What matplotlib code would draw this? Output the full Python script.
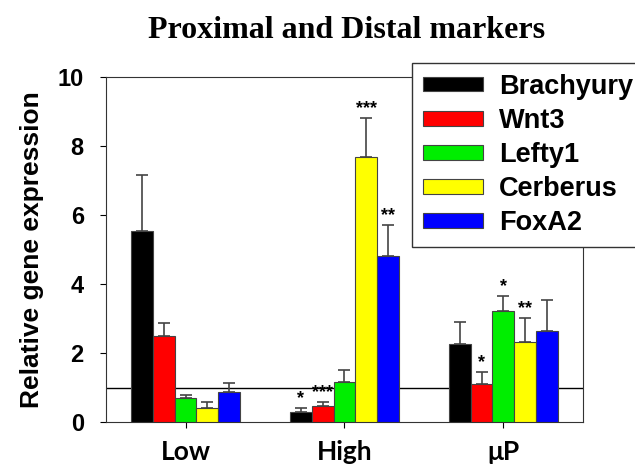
import matplotlib

matplotlib.use("Agg")
import matplotlib.pyplot as plt
import numpy as np

groups = ["Low", "High", "\u03bcP"]
genes = ["Brachyury", "Wnt3", "Lefty1", "Cerberus", "FoxA2"]
colors = ["#000000", "#ff0000", "#00ee00", "#ffff00", "#0000ff"]
yticks = [0, 2, 4, 6, 8, 10]

# mean values per gene, one entry per group (Low, High, uP)
brachyury = [5.55, 0.30, 2.26]
wnt3 = [2.50, 0.48, 1.10]
lefty1 = [0.70, 1.17, 3.21]
cerberus = [0.40, 7.69, 2.31]
foxa2 = [0.86, 4.81, 2.64]

# upper error bars
brachyury_err = [1.61, 0.10, 0.65]
wnt3_err = [0.37, 0.10, 0.34]
lefty1_err = [0.09, 0.35, 0.43]
cerberus_err = [0.18, 1.13, 0.71]
foxa2_err = [0.27, 0.90, 0.91]

brachyury_sig = ["", "*", ""]
wnt3_sig = ["", "***", "*"]
lefty1_sig = ["", "", "*"]
cerberus_sig = ["", "***", "**"]
foxa2_sig = ["", "**", ""]

values = [brachyury, wnt3, lefty1, cerberus, foxa2]
errors = [brachyury_err, wnt3_err, lefty1_err, cerberus_err, foxa2_err]
sigs = [brachyury_sig, wnt3_sig, lefty1_sig, cerberus_sig, foxa2_sig]

fig = plt.figure(figsize=(6.35, 4.7), dpi=100)
ax = fig.add_axes([0.167, 0.102, 0.751, 0.734])

x = np.arange(len(groups))
width = 0.138
for i, (gene, vals, errs, sig) in enumerate(zip(genes, values, errors, sigs)):
    pos = x + (i - 2) * width
    ax.bar(pos, vals, width, color=colors[i], edgecolor="#444444", linewidth=0.8,
           label=gene, zorder=3)
    ax.errorbar(pos, vals, yerr=[np.zeros(len(vals)), errs], fmt="none",
                ecolor="#444444", elinewidth=1.2, capsize=4, capthick=1.2, zorder=2)
    for p, v, e, s in zip(pos, vals, errs, sig):
        if s:
            ax.text(p, v + e + 0.03, s, ha="center", va="bottom",
                    fontsize=13, fontweight="bold", family="Liberation Sans")

ax.axhline(1.0, color="black", linewidth=1, zorder=1)

ax.set_xlim(-0.5, 2.5)
ax.set_ylim(0, 10)
ax.set_yticks(yticks, labels=[str(t) for t in yticks], family="Liberation Sans",
              fontweight="bold", fontsize=17)
ax.set_xticks(x, labels=groups, family="Lato", fontweight="bold", fontsize=19)
ax.tick_params(axis="x", length=4, pad=9)
ax.tick_params(axis="y", length=4, pad=12)
for sp in ax.spines.values():
    sp.set_color("#333333")

ax.set_ylabel("Relative gene expression", family="Liberation Sans",
              fontweight="bold", fontsize=19, labelpad=10)
fig.suptitle("Proximal and Distal markers", family="Liberation Serif",
             fontweight="bold", fontsize=23, x=0.545, y=0.965)

leg = fig.legend(loc="upper left", bbox_to_anchor=(0.649, 0.866),
                 prop={"family": "Liberation Sans", "weight": "bold", "size": 19.5},
                 fancybox=False, edgecolor="#333333", framealpha=1,
                 handlelength=2.2, handleheight=0.45, labelspacing=0.3,
                 borderpad=0.4, handletextpad=0.6, borderaxespad=0)
leg.get_frame().set_linewidth(1)

fig.savefig("out.png", dpi=100)
